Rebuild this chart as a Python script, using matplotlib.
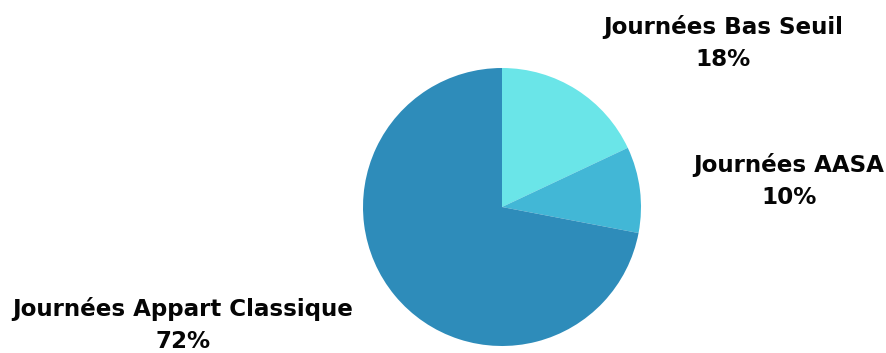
import matplotlib
matplotlib.use("Agg")
import matplotlib.pyplot as plt

categories = ["Journées Bas Seuil", "Journées AASA", "Journées Appart Classique"]
values = [18, 10, 72]
colors = ["#6AE5E8", "#42B7D6", "#2E8CBA"]

W, H = 886, 353
fig = plt.figure(figsize=(W / 100, H / 100), dpi=100)
fig.patch.set_facecolor("white")

cx, cy, r = 502, 207, 139
ax = fig.add_axes([(cx - r) / W, (H - (cy + r)) / H, 2 * r / W, 2 * r / H])
ax.pie(values, colors=colors, startangle=90, counterclock=False, radius=1,
       wedgeprops=dict(linewidth=0))
ax.set_xlim(-1, 1)
ax.set_ylim(-1, 1)
ax.set_aspect("equal")
ax.axis("off")

label_pos = [(723, 27), (789, 165), (183, 309)]
font = dict(family=["DejaVu Sans"], weight="bold", fontsize=16.6, color="#050505")
for (x, y), cat, v in zip(label_pos, categories, values):
    fig.text(x / W, 1 - y / H, cat, ha="center", va="center", **font)
    fig.text(x / W, 1 - (y + 33) / H, f"{v}%", ha="center", va="center", **font)

fig.savefig("out.png", dpi=100, facecolor="white")
